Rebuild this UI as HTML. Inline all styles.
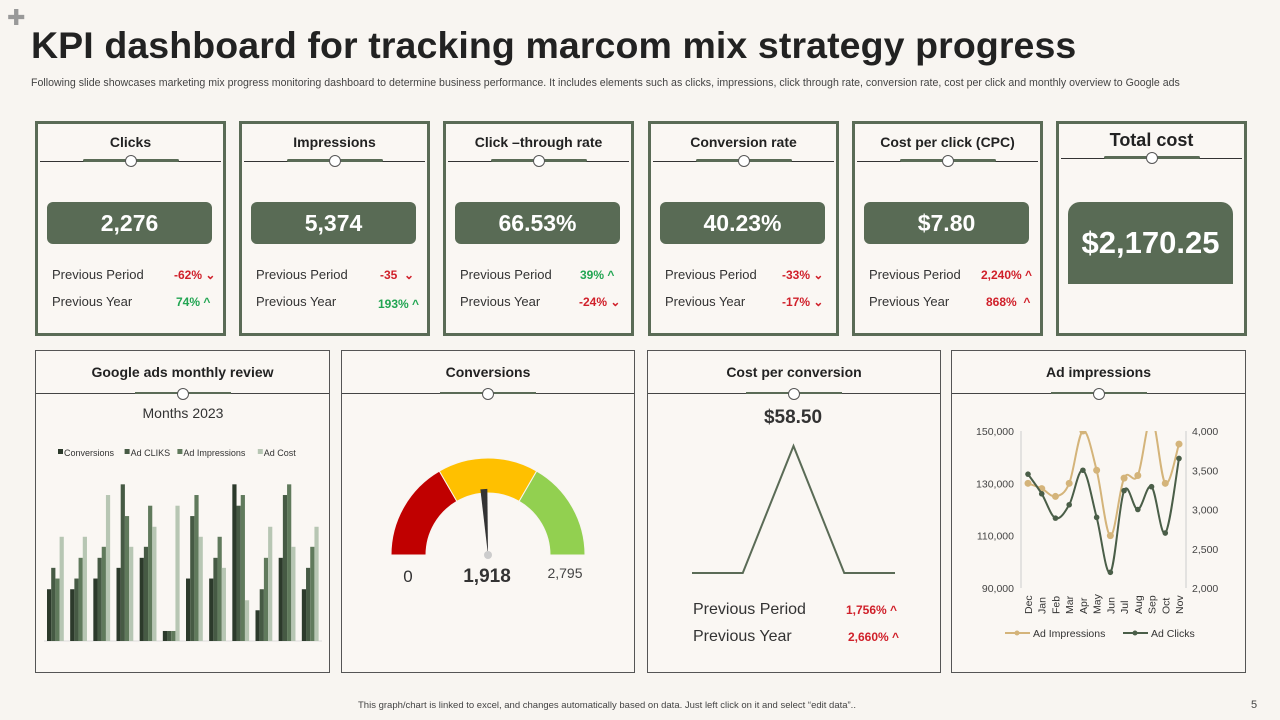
<!DOCTYPE html>
<html><head><meta charset="utf-8">
<style>
*{margin:0;padding:0;box-sizing:border-box}
body{width:1280px;height:720px;background:#f8f5f1;font-family:"Liberation Sans",sans-serif;position:relative;overflow:hidden;color:#222}
.abs{position:absolute}
.kpi{position:absolute;top:121px;width:191px;height:215px;border:3px solid #5a6b56;background:#faf7f3}
.kt{position:absolute;top:10px;left:0;right:0;text-align:center;font-weight:bold;font-size:14px;color:#222}
.kline{position:absolute;top:37px;left:2px;right:2px;height:1px;background:#333}
.kseg{position:absolute;top:35px;left:50%;width:96px;margin-left:-48px;height:3px;background:#5a6b56;border-radius:2px}
.kcirc{position:absolute;top:31px;left:50%;margin-left:-6px;width:12px;height:12px;border-radius:50%;border:1px solid #555;background:#fff}
.kv{position:absolute;top:78px;left:9px;width:165px;height:42px;border-radius:6px;background:#596b55;color:#fff;font-weight:bold;font-size:23px;text-align:center;line-height:42px}
.row{position:absolute;left:14px;font-size:13px;color:#333}
.pct{position:absolute;font-size:12px;font-weight:bold}
.red{color:#d0202a}.grn{color:#22a552}
.pan{position:absolute;top:350px;height:323px;border:1px solid #555;background:#faf7f3}
.pt{position:absolute;top:13px;left:0;right:0;text-align:center;font-weight:bold;font-size:14px}
.pline{position:absolute;top:42px;left:0;right:0;height:1px;background:#444}
.pseg{position:absolute;top:41px;left:50%;width:96px;margin-left:-48px;height:2px;background:#5a6b56}
.pcirc{position:absolute;top:37px;left:50%;margin-left:-6px;width:12px;height:12px;border-radius:50%;border:1px solid #555;background:#fff}
</style></head><body>
<div class="abs" style="left:7px;top:8px;font-size:22px;color:#999;line-height:20px">✚</div>
<div class="abs" style="left:31px;top:24px;font-size:37.5px;font-weight:bold;color:#222;white-space:nowrap;letter-spacing:0.1px">KPI dashboard for tracking marcom mix strategy progress</div>
<div class="abs" style="left:31px;top:77px;font-size:10.6px;color:#444;white-space:nowrap">Following slide showcases marketing mix progress monitoring dashboard to determine business performance. It includes elements such as clicks, impressions, click through rate, conversion rate, cost per click and monthly overview to Google ads</div>

<div class="kpi" style="left:35px">
<div class="kt">Clicks</div><div class="kline"></div><div class="kseg"></div><div class="kcirc"></div>
<div class="kv">2,276</div>
<div class="row" style="top:143px">Previous Period</div><div class="pct red" style="top:144px;left:136px">-62% ⌄</div>
<div class="row" style="top:170px">Previous Year</div><div class="pct grn" style="top:171px;left:138px">74% ^</div>
</div>
<div class="kpi" style="left:239px">
<div class="kt">Impressions</div><div class="kline"></div><div class="kseg"></div><div class="kcirc"></div>
<div class="kv">5,374</div>
<div class="row" style="top:143px">Previous Period</div><div class="pct red" style="top:144px;left:138px">-35 &nbsp;⌄</div>
<div class="row" style="top:170px">Previous Year</div><div class="pct grn" style="top:173px;left:136px">193% ^</div>
</div>
<div class="kpi" style="left:443px">
<div class="kt">Click –through rate</div><div class="kline"></div><div class="kseg"></div><div class="kcirc"></div>
<div class="kv">66.53%</div>
<div class="row" style="top:143px">Previous Period</div><div class="pct grn" style="top:144px;left:134px">39% ^</div>
<div class="row" style="top:170px">Previous Year</div><div class="pct red" style="top:171px;left:133px">-24% ⌄</div>
</div>
<div class="kpi" style="left:648px">
<div class="kt">Conversion rate</div><div class="kline"></div><div class="kseg"></div><div class="kcirc"></div>
<div class="kv">40.23%</div>
<div class="row" style="top:143px">Previous Period</div><div class="pct red" style="top:144px;left:131px">-33% ⌄</div>
<div class="row" style="top:170px">Previous Year</div><div class="pct red" style="top:171px;left:131px">-17% ⌄</div>
</div>
<div class="kpi" style="left:852px">
<div class="kt">Cost per click (CPC)</div><div class="kline"></div><div class="kseg"></div><div class="kcirc"></div>
<div class="kv">$7.80</div>
<div class="row" style="top:143px">Previous Period</div><div class="pct red" style="top:144px;left:126px">2,240% ^</div>
<div class="row" style="top:170px">Previous Year</div><div class="pct red" style="top:171px;left:131px">868% &nbsp;^</div>
</div>
<div class="kpi" style="left:1056px">
<div class="kt" style="font-size:18px;top:6px">Total cost</div><div class="kline" style="top:34px"></div><div class="kseg" style="top:32px"></div><div class="kcirc" style="top:28px"></div>
<div class="abs" style="top:78px;left:9px;width:165px;height:82px;background:#596b55;border-radius:12px 12px 0 0;color:#fff;font-weight:bold;font-size:31px;text-align:center;line-height:82px">$2,170.25</div>
</div>

<div class="pan" style="left:35px;width:295px">
<div class="pt">Google ads monthly review</div><div class="pline"></div><div class="pseg"></div><div class="pcirc"></div>
</div>
<div class="pan" style="left:341px;width:294px">
<div class="pt">Conversions</div><div class="pline"></div><div class="pseg"></div><div class="pcirc"></div>
</div>
<div class="pan" style="left:647px;width:294px">
<div class="pt">Cost per conversion</div><div class="pline"></div><div class="pseg"></div><div class="pcirc"></div>
<div class="abs" style="left:45px;top:250px;font-size:16px;color:#333">Previous Period</div><div class="pct red abs" style="left:198px;top:252px">1,756% ^</div>
<div class="abs" style="left:45px;top:277px;font-size:16px;color:#333">Previous Year</div><div class="pct red abs" style="left:200px;top:279px">2,660% ^</div>
</div>
<div class="pan" style="left:951px;width:295px">
<div class="pt">Ad impressions</div><div class="pline"></div><div class="pseg"></div><div class="pcirc"></div>
</div>

<svg class="abs" style="left:0;top:0" width="1280" height="720" id="charts"></svg>

<div class="abs" style="left:358px;top:700px;font-size:9.5px;color:#444">This graph/chart is linked to excel, and changes automatically based on data. Just left click on it and select “edit data”..</div>
<div class="abs" style="left:1251px;top:699px;font-size:11px;color:#444">5</div>

<script>
// Bar chart data
const barMonths=["Jan","Feb","Mar","Apr","May","Jun","Jul","Aug","Sep","Oct","Nov","Dec"];
const barSeries=["Conversions","Ad CLIKS","Ad Impressions","Ad Cost"];
const conversions=[15.5,15.5,18.7,21.9,24.9,3,18.7,18.7,46.9,9.2,24.9,15.5];
const adClicks=[21.9,18.7,24.9,46.9,28.2,3,37.4,24.9,40.5,15.5,43.7,21.9];
const adImpressions=[18.7,24.9,28.2,37.4,40.5,3,43.7,31.2,43.7,24.9,46.9,28.2];
const adCost=[31.2,31.2,43.7,28.2,34.2,40.5,31.2,21.9,12.2,34.2,28.2,34.2];
// Gauge data
const gaugeMin=0, gaugeMax=2795, gaugeValue=1918;
const gaugeBands=[0,930,1865,2795];
const needleFraction=0.48;
// Cost per conversion data
const cpcPoints=[0,0,58.5,0,0];
// Ad impressions line data
const lineMonths=["Dec","Jan","Feb","Mar","Apr","May","Jun","Jul","Aug","Sep","Oct","Nov"];
const impressions=[130000,128000,125000,130000,150000,135000,110000,132000,133000,155000,130000,145000];
const clicks=[3450,3200,2890,3060,3500,2900,2200,3240,3000,3290,2700,3650];
const leftTicks=[90000,110000,130000,150000];
const rightTicks=[2000,2500,3000,3500,4000];

const NS="http://www.w3.org/2000/svg";
const svg=document.getElementById('charts');
function mk(t,a,p){const e=document.createElementNS(NS,t);for(const k in a)e.setAttribute(k,a[k]);(p||svg).appendChild(e);return e;}

// ---- Bar chart
const bx0=44,bx1=322,by0=641,byTop=484,bMax=47;
const by=v=>by0-v/bMax*(by0-byTop);
const gw=(bx1-bx0)/barMonths.length,bw=4.2;
const barColors=["#2c3a2b","#465a44","#607a5c","#b7c6b3"];
const allSeries=[conversions,adClicks,adImpressions,adCost];
mk('text',{x:183,y:418,'text-anchor':'middle','font-size':14,fill:'#333'}).textContent="Months 2023";
let lx=58;
barSeries.forEach((s,i)=>{
  const r=mk('rect',{x:lx,y:449,width:5,height:5,fill:barColors[i]});
  
  
  const t=mk('text',{x:lx+6,y:456,'font-size':9,fill:'#333'});t.textContent=s;
  
  
  lx+=s.length*4.6+16;
});
mk('line',{x1:bx0,x2:bx1,y1:by0,y2:by0,stroke:'#ddd'});
barMonths.forEach((m,g)=>{
  allSeries.forEach((arr,i)=>{
    const x=bx0+g*gw+3+i*bw;
    const r=mk('rect',{x:x,y:by(arr[g]),width:bw,height:by0-by(arr[g]),fill:barColors[i]});
    
    
  });
});

// ---- Gauge
const gcx=488,gcy=555,ro=97,ri=62;
const ang=v=>Math.PI*(1-(v-gaugeMin)/(gaugeMax-gaugeMin));
const gColors=["#c00000","#ffc000","#92d050"];
for(let i=0;i<3;i++){
  const a0=ang(gaugeBands[i]),a1=ang(gaugeBands[i+1]);
  const p=`M${gcx+ro*Math.cos(a0)},${gcy-ro*Math.sin(a0)} A${ro},${ro} 0 0 1 ${gcx+ro*Math.cos(a1)},${gcy-ro*Math.sin(a1)} L${gcx+ri*Math.cos(a1)},${gcy-ri*Math.sin(a1)} A${ri},${ri} 0 0 0 ${gcx+ri*Math.cos(a0)},${gcy-ri*Math.sin(a0)} Z`;
  const e=mk('path',{d:p,fill:gColors[i],stroke:'#f8f5f1','stroke-width':1});
  
  
}
const na=Math.PI*(1-needleFraction),nl=66;
const tx=gcx+nl*Math.cos(na),ty=gcy-nl*Math.sin(na);
const nx=Math.sin(na)*3.5,ny=Math.cos(na)*3.5;
const nd=mk('path',{d:`M${gcx},${gcy} L${tx-nx},${ty-ny} L${tx+nx},${ty+ny} Z`,fill:'#333'});


mk('circle',{cx:gcx,cy:gcy,r:4,fill:'#ccc'});
mk('text',{x:408,y:582,'text-anchor':'middle','font-size':17,fill:'#333'}).textContent=String(gaugeMin);
mk('text',{x:487,y:582,'text-anchor':'middle','font-size':19,'font-weight':'bold',fill:'#333'}).textContent=gaugeValue.toLocaleString('en-US');
mk('text',{x:565,y:578,'text-anchor':'middle','font-size':14,fill:'#444'}).textContent=gaugeMax.toLocaleString('en-US');

// ---- Cost per conversion
const cx0=692,cx1=895,cy0=573,cyTop=446;
const cmax=Math.max(...cpcPoints);
const cxf=i=>cx0+i*(cx1-cx0)/(cpcPoints.length-1);
const cyf=v=>cy0-v/cmax*(cy0-cyTop);
mk('text',{x:793,y:423,'text-anchor':'middle','font-size':19,'font-weight':'bold',fill:'#333'}).textContent="$"+cmax.toFixed(2);
const cl=mk('polyline',{points:cpcPoints.map((v,i)=>cxf(i)+','+cyf(v)).join(' '),fill:'none',stroke:'#5a6b56','stroke-width':2});



// ---- Ad impressions line chart
const lx0=1028,lx1=1179,ly0=588,ly1=431;
const lxf=i=>lx0+i*(lx1-lx0)/(lineMonths.length-1);
const lyL=v=>ly0-(v-90000)/60000*(ly0-ly1);
const lyR=v=>ly0-(v-2000)/2000*(ly0-ly1);
mk('line',{x1:1021,x2:1021,y1:ly1,y2:ly0,stroke:'#ccc'});
mk('line',{x1:1186,x2:1186,y1:ly1,y2:ly0,stroke:'#ccc'});
leftTicks.forEach(t=>{mk('text',{x:1014,y:lyL(t)+4,'text-anchor':'end','font-size':10.5,fill:'#444'}).textContent=t.toLocaleString('en-US');});
rightTicks.forEach(t=>{mk('text',{x:1192,y:lyR(t)+4,'font-size':10.5,fill:'#444'}).textContent=t.toLocaleString('en-US');});
lineMonths.forEach((m,i)=>{mk('text',{x:0,y:0,transform:`translate(${lxf(i)+4},614) rotate(-90)`,'font-size':10.5,fill:'#333'}).textContent=m;});
function smooth(pts){let d=`M${pts[0][0]},${pts[0][1]}`;for(let i=0;i<pts.length-1;i++){const p0=pts[i-1]||pts[i],p1=pts[i],p2=pts[i+1],p3=pts[i+2]||p2;const t=0.17;d+=` C${p1[0]+(p2[0]-p0[0])*t},${p1[1]+(p2[1]-p0[1])*t} ${p2[0]-(p3[0]-p1[0])*t},${p2[1]-(p3[1]-p1[1])*t} ${p2[0]},${p2[1]}`;}return d;}
const defs=mk('defs',{});const cp=mk('clipPath',{id:'lc'},defs);mk('rect',{x:1015,y:ly1,width:175,height:170},cp);
const g=mk('g',{'clip-path':'url(#lc)'});
const ip=impressions.map((v,i)=>[lxf(i),lyL(v)]);
const kp=clicks.map((v,i)=>[lxf(i),lyR(v)]);
const il=mk('path',{d:smooth(ip),fill:'none',stroke:'#d4b47a','stroke-width':2},g);


ip.forEach(p=>mk('circle',{cx:p[0],cy:p[1],r:3.5,fill:'#d4b47a'},g));
const kl=mk('path',{d:smooth(kp),fill:'none',stroke:'#4a5e48','stroke-width':2},g);


kp.forEach(p=>mk('circle',{cx:p[0],cy:p[1],r:2.8,fill:'#4a5e48'},g));
mk('line',{x1:1005,x2:1030,y1:633,y2:633,stroke:'#d4b47a','stroke-width':2});mk('circle',{cx:1017,cy:633,r:2.5,fill:'#d4b47a'});
mk('text',{x:1033,y:637,'font-size':10.5,fill:'#333'}).textContent="Ad Impressions";
mk('line',{x1:1123,x2:1148,y1:633,y2:633,stroke:'#4a5e48','stroke-width':2});mk('circle',{cx:1135,cy:633,r:2.5,fill:'#4a5e48'});
mk('text',{x:1151,y:637,'font-size':10.5,fill:'#333'}).textContent="Ad Clicks";
</script>
</body></html>
